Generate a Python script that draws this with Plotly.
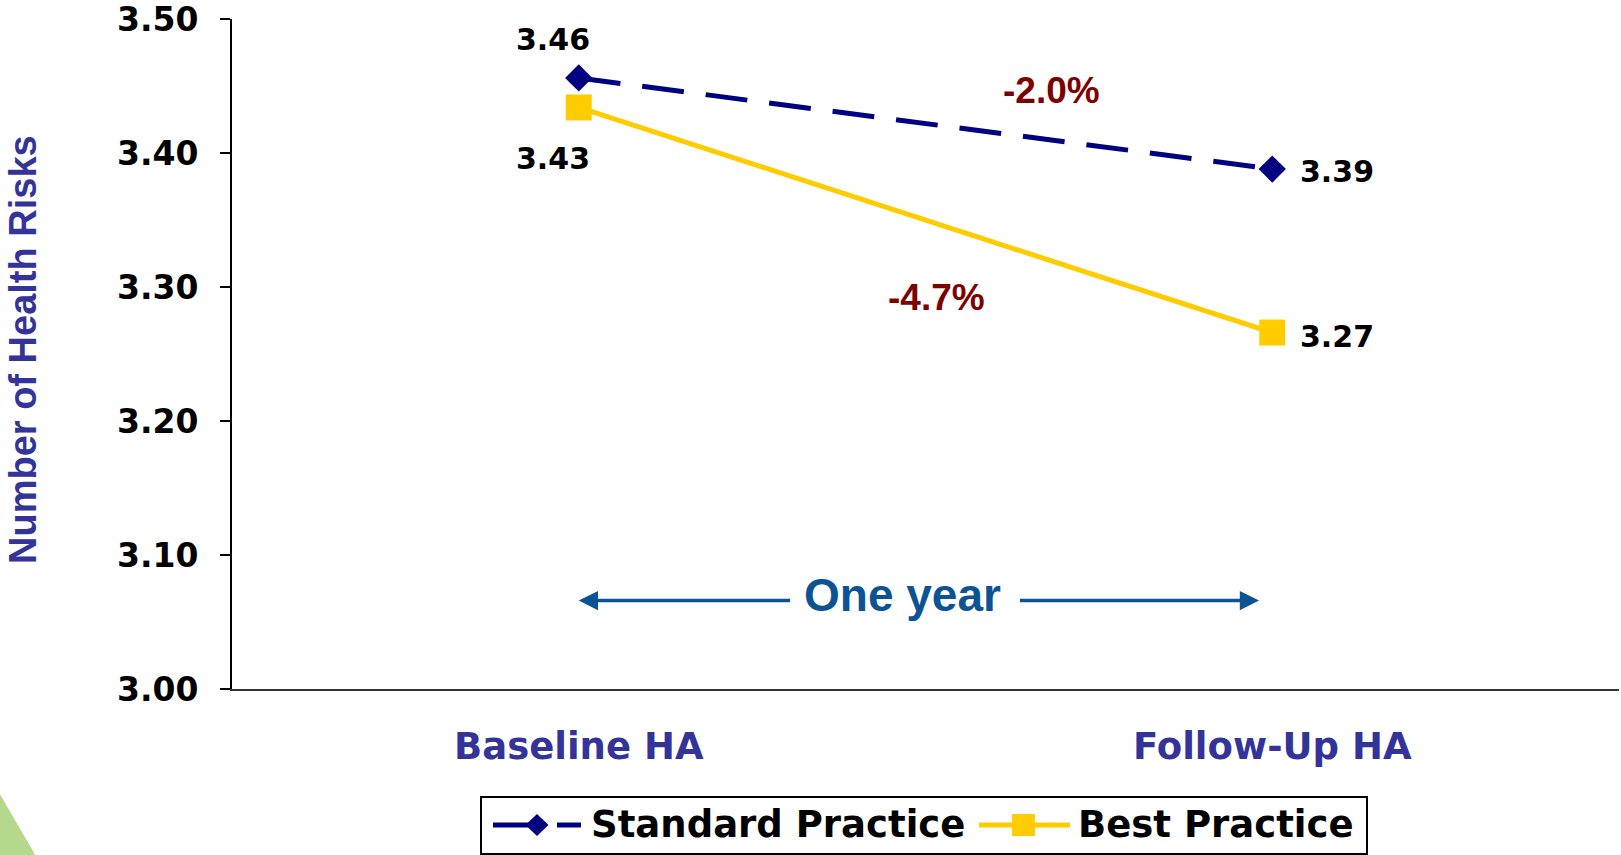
import plotly.graph_objects as go

# ---- data ----
categories = ["Baseline HA", "Follow-Up HA"]
series_names = ["Standard Practice", "Best Practice"]
standard_values = [3.456, 3.388]
best_values = [3.434, 3.266]
standard_labels = ["3.46", "3.39"]
best_labels = ["3.43", "3.27"]
change_labels = ["-2.0%", "-4.7%"]
y_ticks = [3.00, 3.10, 3.20, 3.30, 3.40, 3.50]

NAVY = "#000080"
GOLD = "#FFCC00"
AXIS_BLUE = "#333399"
DARK_RED = "#800000"
ARROW_BLUE = "#0B5394"

BOLD_WIDE = dict(family="DejaVu Sans", weight="bold")
BOLD_ARIAL = dict(family="Liberation Sans", weight="bold")

W, H = 1621, 855
ML, MR, MT, MB = 232, 2, 19, 166
PW, PH = W - ML - MR, H - MT - MB


def px(x):
    return (x - ML) / PW


def py(y):
    return (H - MB - y) / PH


fig = go.Figure()
fig.add_trace(go.Scatter(
    x=categories, y=standard_values, name=series_names[0], mode="lines+markers",
    line=dict(color=NAVY, width=5, dash="42px,22px"),
    marker=dict(symbol="diamond", size=21, color=NAVY),
))
fig.add_trace(go.Scatter(
    x=categories, y=best_values, name=series_names[1], mode="lines+markers",
    line=dict(color=GOLD, width=5),
    marker=dict(symbol="square", size=26, color=GOLD),
))

annotations = []
# value labels
annotations.append(dict(x=categories[0], y=standard_values[0], text=standard_labels[0],
                        xshift=-26, yshift=38, showarrow=False))
annotations.append(dict(x=categories[0], y=best_values[0], text=best_labels[0],
                        xshift=-26, yshift=-51, showarrow=False))
annotations.append(dict(x=categories[1], y=standard_values[1], text=standard_labels[1],
                        xanchor="left", xshift=26, yshift=-2, showarrow=False))
annotations.append(dict(x=categories[1], y=best_values[1], text=best_labels[1],
                        xanchor="left", xshift=26, yshift=-4, showarrow=False))
for a in annotations:
    a["font"] = dict(size=30, color="black", **BOLD_WIDE)

# percentage changes
annotations.append(dict(x=0.682, y=3.4466, text=change_labels[0], showarrow=False,
                        font=dict(size=37, color=DARK_RED, **BOLD_ARIAL)))
annotations.append(dict(x=0.516, y=3.292, text=change_labels[1], showarrow=False,
                        font=dict(size=37, color=DARK_RED, **BOLD_ARIAL)))

# One year with arrows
annotations.append(dict(x=0.467, y=3.0705, text="One year", showarrow=False,
                        font=dict(size=46, color=ARROW_BLUE, **BOLD_ARIAL)))
annotations.append(dict(x=0.0, y=3.066, ax=0.307, ay=3.066, axref="x", ayref="y",
                        text="", showarrow=True, arrowhead=2, arrowsize=1.1,
                        arrowwidth=3.5, arrowcolor=ARROW_BLUE))
annotations.append(dict(x=0.981, y=3.066, ax=0.634, ay=3.066, axref="x", ayref="y",
                        text="", showarrow=True, arrowhead=2, arrowsize=1.1,
                        arrowwidth=3.5, arrowcolor=ARROW_BLUE))

# y axis title
annotations.append(dict(xref="paper", yref="paper", x=px(23), y=py(350),
                        xanchor="center", yanchor="middle",
                        text="Number of Health Risks", textangle=-90, showarrow=False,
                        font=dict(size=38, color=AXIS_BLUE, **BOLD_ARIAL)))

# manual legend (to match the wide line samples of the original)
LEG_Y = 825
annotations.append(dict(xref="paper", yref="paper", x=px(589), y=py(LEG_Y),
                        xanchor="left", yanchor="middle", text=series_names[0],
                        showarrow=False, font=dict(size=37, color="black", **BOLD_WIDE)))
annotations.append(dict(xref="paper", yref="paper", x=px(1076), y=py(LEG_Y),
                        xanchor="left", yanchor="middle", text=series_names[1],
                        showarrow=False, font=dict(size=37, color="black", **BOLD_WIDE)))

shapes = [
    # decorative green triangle at bottom-left corner
    dict(type="path", xref="paper", yref="paper",
         path=f"M {px(-3)},{py(789)} L {px(37)},{py(858)} L {px(-3)},{py(858)} Z",
         fillcolor="#B4D88C", line=dict(width=0), layer="below"),
    # legend box
    dict(type="rect", xref="paper", yref="paper",
         x0=px(481), x1=px(1367), y0=py(854), y1=py(797),
         line=dict(color="black", width=2), fillcolor="white", layer="above"),
    # standard practice sample
    dict(type="line", xref="paper", yref="paper", x0=px(493), x1=px(530),
         y0=py(LEG_Y), y1=py(LEG_Y), line=dict(color=NAVY, width=5)),
    dict(type="line", xref="paper", yref="paper", x0=px(557), x1=px(581),
         y0=py(LEG_Y), y1=py(LEG_Y), line=dict(color=NAVY, width=5)),
    dict(type="path", xref="paper", yref="paper",
         path=(f"M {px(525.5)},{py(LEG_Y)} L {px(537)},{py(LEG_Y - 11)} "
               f"L {px(548.5)},{py(LEG_Y)} L {px(537)},{py(LEG_Y + 11)} Z"),
         fillcolor=NAVY, line=dict(width=0)),
    # best practice sample
    dict(type="line", xref="paper", yref="paper", x0=px(979), x1=px(1070),
         y0=py(LEG_Y), y1=py(LEG_Y), line=dict(color=GOLD, width=5)),
    dict(type="rect", xref="paper", yref="paper", x0=px(1012), x1=px(1035),
         y0=py(LEG_Y + 11), y1=py(LEG_Y - 11), fillcolor=GOLD, line=dict(width=0)),
]

fig.update_layout(
    width=W, height=H,
    margin=dict(l=ML, r=MR, t=MT, b=MB, autoexpand=False),
    paper_bgcolor="white", plot_bgcolor="white",
    annotations=annotations,
    shapes=shapes,
    showlegend=False,
    xaxis=dict(type="category", range=[-0.5, 1.5], showgrid=False, zeroline=False,
               showline=True, linecolor="#333333", linewidth=2, ticks="",
               tickfont=dict(size=37, color=AXIS_BLUE, **BOLD_WIDE),
               ticklabelstandoff=24, automargin=False),
    yaxis=dict(range=[3.0, 3.5], tickvals=y_ticks, tickformat=".2f", showgrid=False,
               zeroline=False, showline=True, linecolor="black", linewidth=2,
               ticks="outside", ticklen=10, tickwidth=2, tickcolor="black",
               tickfont=dict(size=33, color="black", **BOLD_WIDE),
               ticklabelstandoff=15, ticklabeloverflow="allow", automargin=False),
)

fig.write_html("out.html")
